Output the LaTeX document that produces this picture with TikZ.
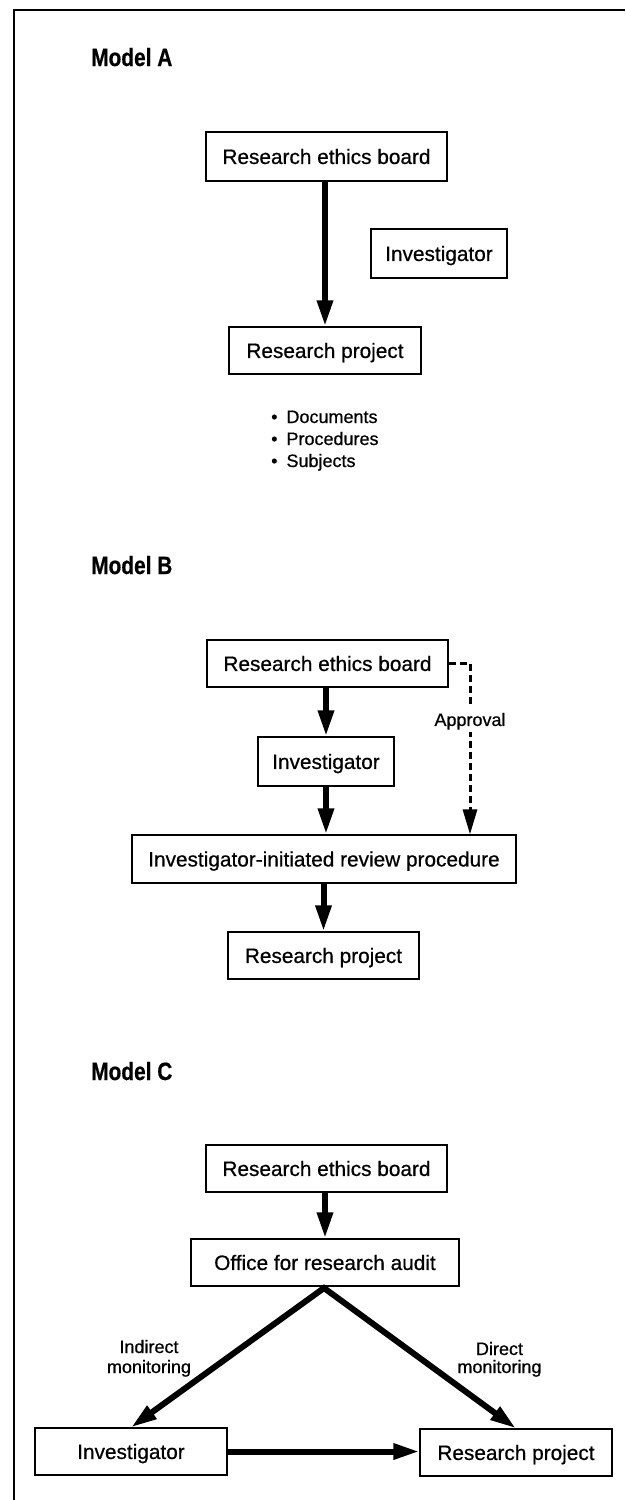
\documentclass[tikz,border=0pt]{standalone}
\usepackage{fontspec}
\setmainfont{Liberation Sans}[FakeBold=0.6]
\usetikzlibrary{arrows.meta}
\newcommand{\modeltitle}[1]{\scalebox{0.835}[1]{\bfseries\fontsize{25}{30}\selectfont #1}}
\tikzset{
  box/.style={draw, line width=1.2pt, minimum height=48pt, inner sep=0pt,
    text height=14.9pt, text depth=0pt, font=\fontsize{20.8}{25}\selectfont},
  title/.style={anchor=base west, inner sep=0pt},
  small/.style={inner sep=0pt, font=\fontsize{18}{22}\selectfont},
  flow/.style={line width=6pt, -{Triangle[length=26pt,width=15pt]}},
  dflow/.style={line width=3pt, dash pattern=on 7pt off 4pt, -{Triangle[length=25pt,width=14pt]}},
  frameline/.style={line width=1.8pt},
}
\begin{document}
\begin{tikzpicture}[x=1pt,y=-1pt]
\useasboundingbox (0,0) rectangle (625,1500);
\fill[white] (0,0) rectangle (625,1500);
\coordinate (fr1) at (625,10);
\coordinate (fr2) at (14,10);
\coordinate (fr3) at (14,1500);
\draw[frameline] (fr1) -- (fr2) -- (fr3);

% ---------------- Model A
\node[title] (ta) at (91,66) {\modeltitle{Model A}};
\node[box, minimum width=241pt, minimum height=49pt] (rebA) at (326.5,156.5) {Research ethics board};
\node[box, minimum width=136pt, minimum height=49pt] (invA) at (439,253.5) {Investigator};
\node[box, minimum width=192pt, minimum height=47pt] (rpA) at (325,350.5) {Research project};
\draw[flow] (rpA.north |- rebA.south) -- (rpA.north);
\node[small, anchor=base west] (listA) at (271,423)
  {\begin{tabular}[t]{@{}l@{}}\textbullet\hspace{9pt}Documents\\ \textbullet\hspace{9pt}Procedures\\ \textbullet\hspace{9pt}Subjects\end{tabular}};

% ---------------- Model B
\node[title] (tb) at (91,574) {\modeltitle{Model B}};
\node[box, minimum width=241pt, minimum height=47pt] (rebB) at (327.5,663.5) {Research ethics board};
\node[box, minimum width=136pt, minimum height=49pt] (invB) at (326,761.5) {Investigator};
\node[box, minimum width=384pt, minimum height=48pt] (iirp) at (324,859) {Investigator-initiated review procedure};
\node[box, minimum width=191pt, minimum height=47pt] (rpB) at (323.5,955.5) {Research project};
\draw[flow] (invB.north |- rebB.south) -- (invB.north);
\draw[flow] (invB.south) -- (invB.south |- iirp.north);
\draw[flow] (rpB.north |- iirp.south) -- (rpB.north);
\coordinate (dcorner) at (470,663.5);
\draw[dflow] (rebB.east) -- (dcorner) -- (dcorner |- iirp.north);
\node[small, fill=white, text height=12.9pt, text depth=0pt, inner xsep=2pt, inner ysep=6pt] (appr) at (470,719.5) {Approval};

% ---------------- Model C
\node[title] (tc) at (91,1080) {\modeltitle{Model C}};
\node[box, minimum width=241pt, minimum height=47pt] (rebC) at (326.5,1168.5) {Research ethics board};
\node[box, minimum width=268pt, minimum height=47pt] (office) at (325,1262.5) {Office for research audit};
\node[box, minimum width=192pt, minimum height=47pt] (invC) at (131,1451.5) {Investigator};
\node[box, minimum width=192pt, minimum height=47pt] (rpC) at (516,1452.5) {Research project};
\draw[flow] (office.north |- rebC.south) -- (office.north);
\coordinate (apex) at (324,1288);
\draw[line width=6pt, line join=miter, {Triangle[length=26pt,width=15pt]}-{Triangle[length=26pt,width=15pt]}]
  (invC.north) -- (apex) -- (rpC.north);
\draw[flow] (invC.east) -- (rpC.west |- invC.east);
\node[small, anchor=base] (lind) at (149,1353)
  {\begin{tabular}[t]{@{}c@{}}Indirect\\[-2pt] monitoring\end{tabular}};
\node[small, anchor=base] (ldir) at (499.5,1355)
  {\begin{tabular}[t]{@{}c@{}}Direct\\[-4pt] monitoring\end{tabular}};
\end{tikzpicture}
\end{document}
